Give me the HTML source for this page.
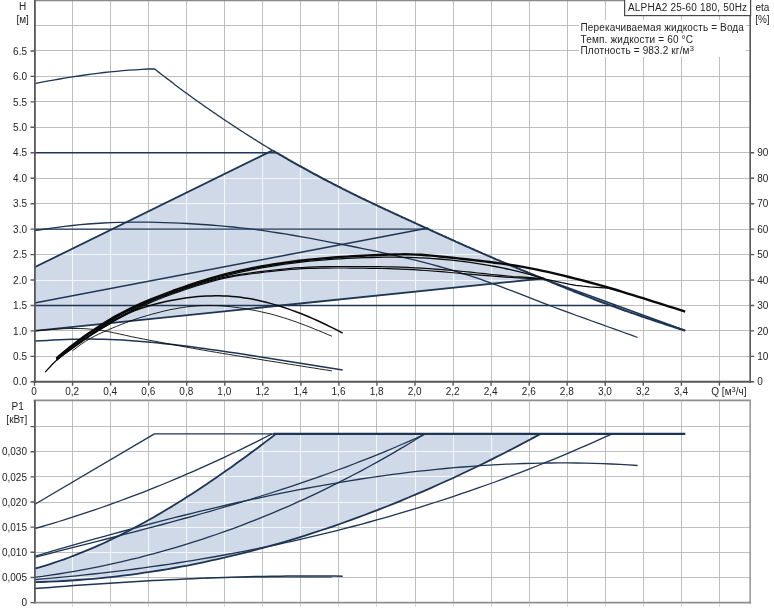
<!DOCTYPE html>
<html><head><meta charset="utf-8"><title>ALPHA2 25-60 180</title>
<style>html,body{margin:0;padding:0;background:#ffffff;}body{width:774px;height:611px;overflow:hidden;position:relative;font-family:"Liberation Sans",sans-serif;}</style></head>
<body>
<svg width="774" height="611" viewBox="0 0 774 611" style="position:absolute;left:0;top:0;display:block;will-change:transform;opacity:0.999">
<defs>
<clipPath id="c1"><path d="M34.5 330.9 L34.5 267.3 L267.7 152.8 L276.9 152.8 L278.1 153.6 L279.4 154.4 L280.7 155.2 L282.1 155.9 L283.4 156.7 L284.7 157.5 L286.1 158.2 L287.4 159 L288.7 159.8 L290.1 160.5 L291.4 161.3 L292.7 162 L294 162.8 L295.4 163.5 L296.7 164.3 L298 165 L299.4 165.8 L300.7 166.5 L302 167.2 L303.4 168 L304.7 168.7 L306 169.4 L307.3 170.2 L308.7 170.9 L310 171.6 L311.3 172.4 L312.7 173.1 L314 173.8 L315.3 174.5 L316.7 175.2 L318 175.9 L319.3 176.6 L320.6 177.4 L322 178.1 L323.3 178.8 L324.6 179.5 L326 180.2 L327.3 180.9 L328.6 181.6 L330 182.2 L331.3 182.9 L332.6 183.6 L334 184.3 L335.3 185 L336.6 185.7 L337.9 186.4 L339.3 187 L340.6 187.7 L341.9 188.4 L343.3 189.1 L344.6 189.7 L345.9 190.4 L347.3 191.1 L348.6 191.7 L349.9 192.4 L351.2 193.1 L352.6 193.7 L353.9 194.4 L355.2 195 L356.6 195.7 L357.9 196.3 L359.2 197 L360.6 197.6 L361.9 198.3 L363.2 198.9 L364.5 199.5 L365.9 200.2 L367.2 200.8 L368.5 201.4 L369.9 202.1 L371.2 202.7 L372.5 203.3 L373.9 204 L375.2 204.6 L376.5 205.2 L377.9 205.9 L379.2 206.5 L380.5 207.1 L381.8 207.7 L383.2 208.4 L384.5 209 L385.8 209.6 L387.2 210.2 L388.5 210.8 L389.8 211.4 L391.2 212.1 L392.5 212.7 L393.8 213.3 L395.1 213.9 L396.5 214.5 L397.8 215.1 L399.1 215.7 L400.5 216.4 L401.8 217 L403.1 217.6 L404.5 218.2 L405.8 218.8 L407.1 219.4 L408.4 220 L409.8 220.6 L411.1 221.2 L412.4 221.8 L413.8 222.4 L415.1 223.1 L416.4 223.7 L417.8 224.3 L419.1 224.9 L420.4 225.5 L421.8 226.1 L423.1 226.7 L424.4 227.3 L425.7 227.9 L427.1 228.5 L428.4 229.1 L429.7 229.7 L431.1 230.4 L432.4 231 L433.7 231.6 L435.1 232.2 L436.4 232.8 L437.7 233.4 L439 234 L440.4 234.6 L441.7 235.2 L443 235.8 L444.4 236.4 L445.7 237 L447 237.6 L448.4 238.2 L449.7 238.8 L451 239.4 L452.3 240 L453.7 240.6 L455 241.2 L456.3 241.8 L457.7 242.4 L459 243 L460.3 243.6 L461.7 244.2 L463 244.8 L464.3 245.4 L465.7 246 L467 246.6 L468.3 247.1 L469.6 247.7 L471 248.3 L472.3 248.9 L473.6 249.5 L475 250.1 L476.3 250.7 L477.6 251.2 L479 251.8 L480.3 252.4 L481.6 253 L482.9 253.6 L484.3 254.1 L485.6 254.7 L486.9 255.3 L488.3 255.9 L489.6 256.4 L490.9 257 L492.3 257.6 L493.6 258.2 L494.9 258.7 L496.2 259.3 L497.6 259.9 L498.9 260.4 L500.2 261 L501.6 261.6 L502.9 262.1 L504.2 262.7 L505.6 263.2 L506.9 263.8 L508.2 264.3 L509.6 264.9 L510.9 265.5 L512.2 266 L513.5 266.6 L514.9 267.1 L516.2 267.7 L517.5 268.2 L518.9 268.8 L520.2 269.3 L521.5 269.9 L522.9 270.4 L524.2 271 L525.5 271.5 L526.8 272 L528.2 272.6 L529.5 273.1 L530.8 273.7 L532.2 274.2 L533.5 274.8 L534.8 275.3 L536.2 275.9 L537.5 276.4 L538.8 277 L540.2 277.5 L541.5 278.1 L542.5 278.5 Z"/></clipPath>
<clipPath id="c2"><path d="M34.5 568.7 L39.4 567.3 L44.4 565.8 L49.3 564.3 L54.2 562.7 L59.1 561 L64.1 559.3 L69 557.5 L73.9 555.6 L78.8 553.7 L83.8 551.7 L88.7 549.7 L93.6 547.6 L98.6 545.4 L103.5 543.2 L108.4 540.9 L113.3 538.5 L118.3 536.1 L123.2 533.6 L128.1 531.1 L133 528.5 L138 525.9 L142.9 523.2 L147.8 520.5 L152.8 517.7 L157.7 514.9 L162.6 512 L167.5 509 L172.5 506.1 L177.4 503 L182.3 500 L187.2 496.8 L192.2 493.7 L197.1 490.5 L202 487.2 L206.9 483.9 L211.9 480.6 L216.8 477.2 L221.7 473.8 L226.7 470.3 L231.6 466.9 L236.5 463.3 L241.4 459.8 L246.4 456.2 L251.3 452.5 L256.2 448.9 L261.1 445.2 L266.1 441.4 L271 437.7 L275.9 433.9 L540.6 433.9 L540.6 433.9 L533.2 437.9 L525.9 441.8 L518.6 445.6 L511.2 449.5 L503.9 453.2 L496.6 456.9 L489.2 460.6 L481.9 464.2 L474.6 467.8 L467.2 471.3 L459.9 474.7 L452.6 478.2 L445.2 481.5 L437.9 484.8 L430.6 488.1 L423.2 491.3 L415.9 494.4 L408.5 497.5 L401.2 500.6 L393.9 503.6 L386.5 506.5 L379.2 509.4 L371.9 512.2 L364.5 515 L357.2 517.7 L349.9 520.4 L342.5 523 L335.2 525.6 L327.9 528.1 L320.5 530.5 L313.2 532.9 L305.9 535.3 L298.5 537.6 L291.2 539.8 L283.9 542 L276.5 544.1 L269.2 546.2 L261.9 548.2 L254.5 550.2 L247.2 552.1 L239.9 553.9 L232.5 555.7 L225.2 557.4 L217.9 559.1 L210.5 560.7 L203.2 562.3 L195.9 563.8 L188.5 565.3 L181.2 566.6 L173.9 568 L166.5 569.3 L159.2 570.5 L151.8 571.6 L144.5 572.7 L137.2 573.8 L129.8 574.8 L122.5 575.7 L115.2 576.6 L107.8 577.4 L100.5 578.1 L93.2 578.8 L85.8 579.4 L78.5 580 L71.2 580.5 L63.8 581 L56.5 581.4 L49.2 581.7 L41.8 582 L34.5 582.2 Z"/></clipPath>
</defs>
<rect x="0" y="0" width="774" height="611" fill="#ffffff"/>
<path d="M72.5 0 V381.8 M110.5 0 V381.8 M148.5 0 V381.8 M186.5 0 V381.8 M224.5 0 V381.8 M262.5 0 V381.8 M300.5 0 V381.8 M338.5 0 V381.8 M376.5 0 V381.8 M415.5 0 V381.8 M453.5 0 V381.8 M491.5 0 V381.8 M529.5 0 V381.8 M567.5 0 V381.8 M605.5 0 V381.8 M643.5 0 V381.8 M681.5 0 V381.8 M719.5 0 V381.8 M34.5 356.5 H750.2 M34.5 330.5 H750.2 M34.5 305.5 H750.2 M34.5 280.5 H750.2 M34.5 254.5 H750.2 M34.5 229.5 H750.2 M34.5 203.5 H750.2 M34.5 178.5 H750.2 M34.5 152.5 H750.2 M34.5 127.5 H750.2 M34.5 101.5 H750.2 M34.5 76.5 H750.2 M34.5 50.5 H750.2 M34.5 25.5 H750.2" stroke="#b4b4b4" stroke-width="0.85" fill="none"/>
<path d="M34.5 330.9 L34.5 267.3 L267.7 152.8 L276.9 152.8 L278.1 153.6 L279.4 154.4 L280.7 155.2 L282.1 155.9 L283.4 156.7 L284.7 157.5 L286.1 158.2 L287.4 159 L288.7 159.8 L290.1 160.5 L291.4 161.3 L292.7 162 L294 162.8 L295.4 163.5 L296.7 164.3 L298 165 L299.4 165.8 L300.7 166.5 L302 167.2 L303.4 168 L304.7 168.7 L306 169.4 L307.3 170.2 L308.7 170.9 L310 171.6 L311.3 172.4 L312.7 173.1 L314 173.8 L315.3 174.5 L316.7 175.2 L318 175.9 L319.3 176.6 L320.6 177.4 L322 178.1 L323.3 178.8 L324.6 179.5 L326 180.2 L327.3 180.9 L328.6 181.6 L330 182.2 L331.3 182.9 L332.6 183.6 L334 184.3 L335.3 185 L336.6 185.7 L337.9 186.4 L339.3 187 L340.6 187.7 L341.9 188.4 L343.3 189.1 L344.6 189.7 L345.9 190.4 L347.3 191.1 L348.6 191.7 L349.9 192.4 L351.2 193.1 L352.6 193.7 L353.9 194.4 L355.2 195 L356.6 195.7 L357.9 196.3 L359.2 197 L360.6 197.6 L361.9 198.3 L363.2 198.9 L364.5 199.5 L365.9 200.2 L367.2 200.8 L368.5 201.4 L369.9 202.1 L371.2 202.7 L372.5 203.3 L373.9 204 L375.2 204.6 L376.5 205.2 L377.9 205.9 L379.2 206.5 L380.5 207.1 L381.8 207.7 L383.2 208.4 L384.5 209 L385.8 209.6 L387.2 210.2 L388.5 210.8 L389.8 211.4 L391.2 212.1 L392.5 212.7 L393.8 213.3 L395.1 213.9 L396.5 214.5 L397.8 215.1 L399.1 215.7 L400.5 216.4 L401.8 217 L403.1 217.6 L404.5 218.2 L405.8 218.8 L407.1 219.4 L408.4 220 L409.8 220.6 L411.1 221.2 L412.4 221.8 L413.8 222.4 L415.1 223.1 L416.4 223.7 L417.8 224.3 L419.1 224.9 L420.4 225.5 L421.8 226.1 L423.1 226.7 L424.4 227.3 L425.7 227.9 L427.1 228.5 L428.4 229.1 L429.7 229.7 L431.1 230.4 L432.4 231 L433.7 231.6 L435.1 232.2 L436.4 232.8 L437.7 233.4 L439 234 L440.4 234.6 L441.7 235.2 L443 235.8 L444.4 236.4 L445.7 237 L447 237.6 L448.4 238.2 L449.7 238.8 L451 239.4 L452.3 240 L453.7 240.6 L455 241.2 L456.3 241.8 L457.7 242.4 L459 243 L460.3 243.6 L461.7 244.2 L463 244.8 L464.3 245.4 L465.7 246 L467 246.6 L468.3 247.1 L469.6 247.7 L471 248.3 L472.3 248.9 L473.6 249.5 L475 250.1 L476.3 250.7 L477.6 251.2 L479 251.8 L480.3 252.4 L481.6 253 L482.9 253.6 L484.3 254.1 L485.6 254.7 L486.9 255.3 L488.3 255.9 L489.6 256.4 L490.9 257 L492.3 257.6 L493.6 258.2 L494.9 258.7 L496.2 259.3 L497.6 259.9 L498.9 260.4 L500.2 261 L501.6 261.6 L502.9 262.1 L504.2 262.7 L505.6 263.2 L506.9 263.8 L508.2 264.3 L509.6 264.9 L510.9 265.5 L512.2 266 L513.5 266.6 L514.9 267.1 L516.2 267.7 L517.5 268.2 L518.9 268.8 L520.2 269.3 L521.5 269.9 L522.9 270.4 L524.2 271 L525.5 271.5 L526.8 272 L528.2 272.6 L529.5 273.1 L530.8 273.7 L532.2 274.2 L533.5 274.8 L534.8 275.3 L536.2 275.9 L537.5 276.4 L538.8 277 L540.2 277.5 L541.5 278.1 L542.5 278.5 Z" fill="#cfd9e7"/>
<g clip-path="url(#c1)"><path d="M72.5 0 V381.8 M110.5 0 V381.8 M148.5 0 V381.8 M186.5 0 V381.8 M224.5 0 V381.8 M262.5 0 V381.8 M300.5 0 V381.8 M338.5 0 V381.8 M376.5 0 V381.8 M415.5 0 V381.8 M453.5 0 V381.8 M491.5 0 V381.8 M529.5 0 V381.8 M567.5 0 V381.8 M605.5 0 V381.8 M643.5 0 V381.8 M681.5 0 V381.8 M719.5 0 V381.8 M34.5 356.5 H750.2 M34.5 330.5 H750.2 M34.5 305.5 H750.2 M34.5 280.5 H750.2 M34.5 254.5 H750.2 M34.5 229.5 H750.2 M34.5 203.5 H750.2 M34.5 178.5 H750.2 M34.5 152.5 H750.2 M34.5 127.5 H750.2 M34.5 101.5 H750.2 M34.5 76.5 H750.2 M34.5 50.5 H750.2 M34.5 25.5 H750.2" stroke="#f3f6fa" stroke-width="1.15" fill="none"/></g>
<path d="M72.5 400.3 V602.6 M110.5 400.3 V602.6 M148.5 400.3 V602.6 M186.5 400.3 V602.6 M224.5 400.3 V602.6 M262.5 400.3 V602.6 M300.5 400.3 V602.6 M338.5 400.3 V602.6 M376.5 400.3 V602.6 M415.5 400.3 V602.6 M453.5 400.3 V602.6 M491.5 400.3 V602.6 M529.5 400.3 V602.6 M567.5 400.3 V602.6 M605.5 400.3 V602.6 M643.5 400.3 V602.6 M681.5 400.3 V602.6 M719.5 400.3 V602.6 M34.5 577.5 H750.2 M34.5 552.5 H750.2 M34.5 527.5 H750.2 M34.5 502.5 H750.2 M34.5 476.5 H750.2 M34.5 451.5 H750.2 M34.5 426.5 H750.2" stroke="#b4b4b4" stroke-width="0.85" fill="none"/>
<path d="M34.5 568.7 L39.4 567.3 L44.4 565.8 L49.3 564.3 L54.2 562.7 L59.1 561 L64.1 559.3 L69 557.5 L73.9 555.6 L78.8 553.7 L83.8 551.7 L88.7 549.7 L93.6 547.6 L98.6 545.4 L103.5 543.2 L108.4 540.9 L113.3 538.5 L118.3 536.1 L123.2 533.6 L128.1 531.1 L133 528.5 L138 525.9 L142.9 523.2 L147.8 520.5 L152.8 517.7 L157.7 514.9 L162.6 512 L167.5 509 L172.5 506.1 L177.4 503 L182.3 500 L187.2 496.8 L192.2 493.7 L197.1 490.5 L202 487.2 L206.9 483.9 L211.9 480.6 L216.8 477.2 L221.7 473.8 L226.7 470.3 L231.6 466.9 L236.5 463.3 L241.4 459.8 L246.4 456.2 L251.3 452.5 L256.2 448.9 L261.1 445.2 L266.1 441.4 L271 437.7 L275.9 433.9 L540.6 433.9 L540.6 433.9 L533.2 437.9 L525.9 441.8 L518.6 445.6 L511.2 449.5 L503.9 453.2 L496.6 456.9 L489.2 460.6 L481.9 464.2 L474.6 467.8 L467.2 471.3 L459.9 474.7 L452.6 478.2 L445.2 481.5 L437.9 484.8 L430.6 488.1 L423.2 491.3 L415.9 494.4 L408.5 497.5 L401.2 500.6 L393.9 503.6 L386.5 506.5 L379.2 509.4 L371.9 512.2 L364.5 515 L357.2 517.7 L349.9 520.4 L342.5 523 L335.2 525.6 L327.9 528.1 L320.5 530.5 L313.2 532.9 L305.9 535.3 L298.5 537.6 L291.2 539.8 L283.9 542 L276.5 544.1 L269.2 546.2 L261.9 548.2 L254.5 550.2 L247.2 552.1 L239.9 553.9 L232.5 555.7 L225.2 557.4 L217.9 559.1 L210.5 560.7 L203.2 562.3 L195.9 563.8 L188.5 565.3 L181.2 566.6 L173.9 568 L166.5 569.3 L159.2 570.5 L151.8 571.6 L144.5 572.7 L137.2 573.8 L129.8 574.8 L122.5 575.7 L115.2 576.6 L107.8 577.4 L100.5 578.1 L93.2 578.8 L85.8 579.4 L78.5 580 L71.2 580.5 L63.8 581 L56.5 581.4 L49.2 581.7 L41.8 582 L34.5 582.2 Z" fill="#cfd9e7"/>
<g clip-path="url(#c2)"><path d="M72.5 400.3 V602.6 M110.5 400.3 V602.6 M148.5 400.3 V602.6 M186.5 400.3 V602.6 M224.5 400.3 V602.6 M262.5 400.3 V602.6 M300.5 400.3 V602.6 M338.5 400.3 V602.6 M376.5 400.3 V602.6 M415.5 400.3 V602.6 M453.5 400.3 V602.6 M491.5 400.3 V602.6 M529.5 400.3 V602.6 M567.5 400.3 V602.6 M605.5 400.3 V602.6 M643.5 400.3 V602.6 M681.5 400.3 V602.6 M719.5 400.3 V602.6 M34.5 577.5 H750.2 M34.5 552.5 H750.2 M34.5 527.5 H750.2 M34.5 502.5 H750.2 M34.5 476.5 H750.2 M34.5 451.5 H750.2 M34.5 426.5 H750.2" stroke="#f3f6fa" stroke-width="1.15" fill="none"/></g>
<rect x="579" y="20" width="167" height="37" fill="#ffffff"/>
<g stroke-linejoin="round" stroke-linecap="butt">
<path d="M34.5 83.7 L40.8 82.4 L47.1 81.2 L53.4 80.1 L59.7 79 L66 77.9 L72.3 76.9 L78.7 76 L85 75 L91.3 74.1 L97.6 73.3 L103.9 72.5 L110.2 71.9 L116.5 71.3 L122.8 70.7 L129.1 70.2 L135.4 69.8 L141.7 69.4 L148 69 L154.4 68.8 L154.4 68.8 L155.7 69.8 L157 70.8 L158.3 71.9 L159.7 72.9 L161 73.9 L162.3 75 L163.7 76 L165 77 L166.3 78.1 L167.7 79.1 L169 80.1 L170.3 81.1 L171.7 82.1 L173 83.1 L174.3 84.2 L175.6 85.2 L177 86.2 L178.3 87.2 L179.6 88.2 L181 89.2 L182.3 90.2 L183.6 91.2 L185 92.2 L186.3 93.1 L187.6 94.1 L188.9 95.1 L190.3 96 L191.6 97 L192.9 98 L194.3 98.9 L195.6 99.9 L196.9 100.8 L198.3 101.7 L199.6 102.7 L200.9 103.6 L202.2 104.6 L203.6 105.5 L204.9 106.4 L206.2 107.4 L207.6 108.3 L208.9 109.2 L210.2 110.1 L211.6 111 L212.9 112 L214.2 112.9 L215.6 113.8 L216.9 114.7 L218.2 115.6 L219.5 116.5 L220.9 117.4 L222.2 118.3 L223.5 119.2 L224.9 120.1 L226.2 121 L227.5 121.8 L228.9 122.7 L230.2 123.6 L231.5 124.5 L232.8 125.4 L234.2 126.2 L235.5 127.1 L236.8 128 L238.2 128.9 L239.5 129.7 L240.8 130.6 L242.2 131.5 L243.5 132.3 L244.8 133.2 L246.1 134 L247.5 134.9 L248.8 135.7 L250.1 136.6 L251.5 137.4 L252.8 138.3 L254.1 139.1 L255.5 139.9 L256.8 140.8 L258.1 141.6 L259.5 142.4 L260.8 143.3 L262.1 144.1 L263.4 144.9 L264.8 145.7 L266.1 146.5 L267.4 147.3 L268.8 148.1 L270.1 148.9 L271.4 149.7 L272.8 150.5" fill="none" stroke="#1e3554" stroke-width="1.3" />
<path d="M272.8 150.5 L274.1 151.3 L275.4 152.1 L276.7 152.8 L278.1 153.6 L279.4 154.4 L280.7 155.2 L282.1 155.9 L283.4 156.7 L284.7 157.5 L286.1 158.2 L287.4 159 L288.7 159.8 L290.1 160.5 L291.4 161.3 L292.7 162 L294 162.8 L295.4 163.5 L296.7 164.3 L298 165 L299.4 165.8 L300.7 166.5 L302 167.2 L303.4 168 L304.7 168.7 L306 169.4 L307.3 170.2 L308.7 170.9 L310 171.6 L311.3 172.4 L312.7 173.1 L314 173.8 L315.3 174.5 L316.7 175.2 L318 175.9 L319.3 176.6 L320.6 177.4 L322 178.1 L323.3 178.8 L324.6 179.5 L326 180.2 L327.3 180.9 L328.6 181.6 L330 182.2 L331.3 182.9 L332.6 183.6 L334 184.3 L335.3 185 L336.6 185.7 L337.9 186.4 L339.3 187 L340.6 187.7 L341.9 188.4 L343.3 189.1 L344.6 189.7 L345.9 190.4 L347.3 191.1 L348.6 191.7 L349.9 192.4 L351.2 193.1 L352.6 193.7 L353.9 194.4 L355.2 195 L356.6 195.7 L357.9 196.3 L359.2 197 L360.6 197.6 L361.9 198.3 L363.2 198.9 L364.5 199.5 L365.9 200.2 L367.2 200.8 L368.5 201.4 L369.9 202.1 L371.2 202.7 L372.5 203.3 L373.9 204 L375.2 204.6 L376.5 205.2 L377.9 205.9 L379.2 206.5 L380.5 207.1 L381.8 207.7 L383.2 208.4 L384.5 209 L385.8 209.6 L387.2 210.2 L388.5 210.8 L389.8 211.4 L391.2 212.1 L392.5 212.7 L393.8 213.3 L395.1 213.9 L396.5 214.5 L397.8 215.1 L399.1 215.7 L400.5 216.4 L401.8 217 L403.1 217.6 L404.5 218.2 L405.8 218.8 L407.1 219.4 L408.4 220 L409.8 220.6 L411.1 221.2 L412.4 221.8 L413.8 222.4 L415.1 223.1 L416.4 223.7 L417.8 224.3 L419.1 224.9 L420.4 225.5 L421.8 226.1 L423.1 226.7 L424.4 227.3 L425.7 227.9 L427.1 228.5 L428.4 229.1 L429.7 229.7 L431.1 230.4 L432.4 231 L433.7 231.6 L435.1 232.2 L436.4 232.8 L437.7 233.4 L439 234 L440.4 234.6 L441.7 235.2 L443 235.8 L444.4 236.4 L445.7 237 L447 237.6 L448.4 238.2 L449.7 238.8 L451 239.4 L452.3 240 L453.7 240.6 L455 241.2 L456.3 241.8 L457.7 242.4 L459 243 L460.3 243.6 L461.7 244.2 L463 244.8 L464.3 245.4 L465.7 246 L467 246.6 L468.3 247.1 L469.6 247.7 L471 248.3 L472.3 248.9 L473.6 249.5 L475 250.1 L476.3 250.7 L477.6 251.2 L479 251.8 L480.3 252.4 L481.6 253 L482.9 253.6 L484.3 254.1 L485.6 254.7 L486.9 255.3 L488.3 255.9 L489.6 256.4 L490.9 257 L492.3 257.6 L493.6 258.2 L494.9 258.7 L496.2 259.3 L497.6 259.9 L498.9 260.4 L500.2 261 L501.6 261.6 L502.9 262.1 L504.2 262.7 L505.6 263.2 L506.9 263.8 L508.2 264.3 L509.6 264.9 L510.9 265.5 L512.2 266 L513.5 266.6 L514.9 267.1 L516.2 267.7 L517.5 268.2 L518.9 268.8 L520.2 269.3 L521.5 269.9 L522.9 270.4 L524.2 271 L525.5 271.5 L526.8 272 L528.2 272.6 L529.5 273.1 L530.8 273.7 L532.2 274.2 L533.5 274.8 L534.8 275.3 L536.2 275.9 L537.5 276.4 L538.8 277 L540.2 277.5 L541.5 278.1 L542.8 278.6 L544.1 279.2 L545.5 279.7 L546.8 280.3 L548.1 280.8 L549.5 281.4 L550.8 281.9 L552.1 282.5 L553.5 283 L554.8 283.6 L556.1 284.1 L557.4 284.7 L558.8 285.2 L560.1 285.8 L561.4 286.3 L562.8 286.8 L564.1 287.4 L565.4 287.9 L566.8 288.5 L568.1 289 L569.4 289.6 L570.7 290.1 L572.1 290.6 L573.4 291.2 L574.7 291.7 L576.1 292.2 L577.4 292.7 L578.7 293.3 L580.1 293.8 L581.4 294.3 L582.7 294.8 L584.1 295.4 L585.4 295.9 L586.7 296.4 L588 296.9 L589.4 297.4 L590.7 297.9 L592 298.4 L593.4 298.9 L594.7 299.5 L596 300 L597.4 300.5 L598.7 301 L600 301.5 L601.3 302 L602.7 302.5 L604 303 L605.3 303.4 L606.7 303.9 L608 304.4 L609.3 304.9 L610.7 305.4 L612 305.9 L613.3 306.4 L614.6 306.8 L616 307.3 L617.3 307.8 L618.6 308.3 L620 308.8 L621.3 309.2 L622.6 309.7 L624 310.2 L625.3 310.7 L626.6 311.1 L628 311.6 L629.3 312.1 L630.6 312.5 L631.9 313 L633.3 313.4 L634.6 313.9 L635.9 314.4 L637.3 314.8 L638.6 315.3 L639.9 315.7 L641.3 316.2 L642.6 316.7 L643.9 317.1 L645.2 317.6 L646.6 318 L647.9 318.5 L649.2 318.9 L650.6 319.4 L651.9 319.8 L653.2 320.3 L654.6 320.7 L655.9 321.2 L657.2 321.6 L658.5 322 L659.9 322.5 L661.2 322.9 L662.5 323.4 L663.9 323.8 L665.2 324.2 L666.5 324.7 L667.9 325.1 L669.2 325.5 L670.5 326 L671.9 326.4 L673.2 326.8 L674.5 327.3 L675.8 327.7 L677.2 328.1 L678.5 328.5 L679.8 329 L681.2 329.4 L682.5 329.8 L683.8 330.2 L685.2 330.6" fill="none" stroke="#1e3554" stroke-width="2.0" />
<path d="M34.5 152.8 L276.9 152.8" fill="none" stroke="#1e3554" stroke-width="1.5" />
<path d="M34.5 267.3 L272.6 150.4" fill="none" stroke="#1e3554" stroke-width="1.8" />
<path d="M34.5 229.1 L428.3 229.1" fill="none" stroke="#1e3554" stroke-width="1.45" />
<path d="M34.5 230.6 L42.1 229.5 L49.8 228.4 L57.4 227.4 L65 226.4 L72.7 225.5 L80.3 224.7 L87.9 224 L95.6 223.5 L103.2 223 L110.8 222.7 L118.5 222.4 L126.1 222.3 L133.7 222.2 L141.4 222.2 L149 222.2 L156.6 222.4 L164.3 222.6 L171.9 222.8 L179.5 223.1 L187.2 223.5 L194.8 224 L202.4 224.5 L210.1 225 L217.7 225.6 L225.4 226.3 L233 227 L240.6 227.9 L248.3 228.7 L255.9 229.7 L263.5 230.7 L271.2 231.8 L278.8 233 L286.4 234.2 L294.1 235.5 L301.7 236.9 L309.3 238.2 L317 239.7 L324.6 241.1 L332.2 242.6 L339.9 244 L347.5 245.5 L355.1 247 L362.8 248.6 L370.4 250.1 L378 251.7 L385.7 253.4 L393.3 255 L400.9 256.8 L408.6 258.6 L416.2 260.4 L423.8 262.4 L431.5 264.4 L439.1 266.5 L446.7 268.7 L454.4 270.9 L462 273.3 L469.6 275.7 L477.3 278.2 L484.9 280.9 L492.5 283.6 L500.2 286.4 L507.8 289.3 L515.4 292.2 L523.1 295.2 L530.7 298.2 L538.3 301.2 L546 304.1 L553.6 307 L561.3 309.9 L568.9 312.7 L576.5 315.5 L584.2 318.2 L591.8 321 L599.4 323.7 L607.1 326.5 L614.7 329.2 L622.3 332 L630 334.7 L637.6 337.5" fill="none" stroke="#1e3554" stroke-width="1.3" />
<path d="M34.5 302.9 L428.3 228.1" fill="none" stroke="#1e3554" stroke-width="1.5" />
<path d="M34.5 305.5 L615.7 305.5" fill="none" stroke="#1e3554" stroke-width="1.5" />
<path d="M34.5 330.9 L542.5 278.5" fill="none" stroke="#1e3554" stroke-width="1.8" />
<path d="M542.5 278.5 L685.2 330.6" fill="none" stroke="#1e3554" stroke-width="1.6" />
<path d="M34.5 341.1 L40.8 340.7 L47.1 340.4 L53.4 340 L59.7 339.8 L65.9 339.5 L72.2 339.3 L78.5 339.2 L84.8 339.1 L91.1 339.1 L97.4 339.2 L103.7 339.3 L110 339.5 L116.3 339.8 L122.6 340.1 L128.8 340.5 L135.1 341 L141.4 341.5 L147.7 342 L154 342.6 L160.3 343.2 L166.6 343.9 L172.9 344.6 L179.2 345.3 L185.5 346.1 L191.7 346.8 L198 347.7 L204.3 348.5 L210.6 349.4 L216.9 350.3 L223.2 351.2 L229.5 352.2 L235.8 353.1 L242.1 354.1 L248.4 355.1 L254.6 356.1 L260.9 357.1 L267.2 358.1 L273.5 359.1 L279.8 360.1 L286.1 361.1 L292.4 362.1 L298.7 363.1 L305 364.1 L311.3 365.1 L317.5 366.1 L323.8 367.1 L330.1 368.1 L336.4 369.1 L342.7 370.1" fill="none" stroke="#1e3554" stroke-width="1.5" />
<path d="M34.5 330.9 L40.6 330.4 L46.6 329.9 L52.7 329.4 L58.8 329 L64.8 328.7 L70.9 328.5 L77 328.5 L83 328.6 L89.1 329 L95.2 329.6 L101.3 330.4 L107.3 331.4 L113.4 332.7 L119.5 334 L125.5 335.3 L131.6 336.7 L137.7 337.9 L143.7 339.1 L149.8 340.3 L155.9 341.4 L161.9 342.6 L168 343.7 L174.1 344.9 L180.1 346 L186.2 347.1 L192.3 348.2 L198.4 349.3 L204.4 350.3 L210.5 351.4 L216.6 352.4 L222.6 353.4 L228.7 354.4 L234.8 355.4 L240.8 356.4 L246.9 357.4 L253 358.3 L259 359.3 L265.1 360.3 L271.2 361.3 L277.2 362.2 L283.3 363.2 L289.4 364.2 L295.4 365.1 L301.5 366.1 L307.6 367.1 L313.7 368 L319.7 369 L325.8 369.9 L331.9 370.9" fill="none" stroke="#0a0a0a" stroke-width="0.9" />
<path d="M56.4 358.9 L62.6 353.8 L68.7 348.9 L74.9 344.1 L81.1 339.6 L87.3 335.3 L93.4 331.2 L99.6 327.2 L105.8 323.3 L112 319.7 L118.1 316.2 L124.3 312.9 L130.5 309.8 L136.7 306.9 L142.9 304.1 L149 301.5 L155.2 298.9 L161.4 296.5 L167.6 294.1 L173.7 291.9 L179.9 289.7 L186.1 287.6 L192.3 285.5 L198.5 283.5 L204.6 281.6 L210.8 279.8 L217 278 L223.2 276.3 L229.3 274.8 L235.5 273.3 L241.7 271.9 L247.9 270.6 L254 269.4 L260.2 268.2 L266.4 267.2 L272.6 266.1 L278.8 265.2 L284.9 264.2 L291.1 263.4 L297.3 262.6 L303.5 261.9 L309.6 261.2 L315.8 260.6 L322 260.1 L328.2 259.6 L334.3 259.2 L340.5 258.8 L346.7 258.4 L352.9 258.1 L359.1 257.9 L365.2 257.6 L371.4 257.5 L377.6 257.3 L383.8 257.2 L389.9 257.2 L396.1 257.2 L402.3 257.3 L408.5 257.4 L414.7 257.6 L420.8 257.8 L427 258.2 L433.2 258.6 L439.4 259 L445.5 259.6 L451.7 260.2 L457.9 260.9 L464.1 261.6 L470.2 262.4 L476.4 263.3 L482.6 264.3 L488.8 265.4 L495 266.5 L501.1 267.7 L507.3 269 L513.5 270.4 L519.7 271.9 L525.8 273.4 L532 275.1 L538.2 276.8 L544.4 278.5" fill="none" stroke="#0a0a0a" stroke-width="1.3" />
<path d="M56.4 359.9 L63.4 354.3 L70.4 348.8 L77.4 343.6 L84.5 338.7 L91.5 334 L98.5 329.6 L105.5 325.3 L112.5 321.1 L119.6 317.1 L126.6 313.3 L133.6 309.6 L140.6 306.1 L147.6 302.8 L154.7 299.8 L161.7 297 L168.7 294.4 L175.7 291.9 L182.7 289.5 L189.8 287.1 L196.8 284.9 L203.8 282.7 L210.8 280.7 L217.8 278.8 L224.9 277.2 L231.9 275.8 L238.9 274.6 L245.9 273.5 L252.9 272.6 L260 271.7 L267 270.8 L274 270 L281 269.3 L288 268.6 L295.1 267.9 L302.1 267.5 L309.1 267.1 L316.1 266.8 L323.1 266.7 L330.2 266.6 L337.2 266.5 L344.2 266.5 L351.2 266.5 L358.2 266.5 L365.3 266.5 L372.3 266.6 L379.3 266.6 L386.3 266.8 L393.3 266.9 L400.4 267.2 L407.4 267.4 L414.4 267.8 L421.4 268.1 L428.4 268.6 L435.5 269.1 L442.5 269.6 L449.5 270.2 L456.5 270.8 L463.5 271.5 L470.6 272.2 L477.6 273 L484.6 273.7 L491.6 274.5 L498.6 275.2 L505.7 275.9 L512.7 276.5 L519.7 276.9 L526.7 277.3 L533.7 277.8 L540.8 278.5 L547.8 279.6 L554.8 281.1 L561.8 282.7 L568.8 284.1 L575.9 285.3 L582.9 286.2 L589.9 286.9 L596.9 287.4 L603.9 287.8 L611 288.1" fill="none" stroke="#0a0a0a" stroke-width="1.2" />
<path d="M56.4 360.4 L62.5 355.6 L68.7 350.9 L74.8 346.3 L81 341.8 L87.1 337.6 L93.3 333.6 L99.4 329.8 L105.6 326.2 L111.8 322.6 L117.9 319.1 L124.1 315.7 L130.2 312.4 L136.4 309.3 L142.5 306.2 L148.7 303.4 L154.8 300.8 L161 298.3 L167.1 295.9 L173.3 293.7 L179.4 291.6 L185.6 289.5 L191.7 287.5 L197.9 285.5 L204.1 283.7 L210.2 281.9 L216.4 280.2 L222.5 278.7 L228.7 277.4 L234.8 276.2 L241 275.2 L247.1 274.3 L253.3 273.5 L259.4 272.8 L265.6 272 L271.7 271.3 L277.9 270.7 L284 270.1 L290.2 269.5 L296.3 269.1 L302.5 268.7 L308.7 268.4 L314.8 268.3 L321 268.1 L327.1 268.1 L333.3 268 L339.4 268 L345.6 268 L351.7 268.1 L357.9 268.1 L364 268.2 L370.2 268.3 L376.3 268.4 L382.5 268.5 L388.6 268.7 L394.8 268.9 L400.9 269.1 L407.1 269.4 L413.3 269.7 L419.4 270.1 L425.6 270.5 L431.7 271 L437.9 271.4 L444 271.9 L450.2 272.5 L456.3 273 L462.5 273.6 L468.6 274.1 L474.8 274.6 L480.9 275.2 L487.1 275.7 L493.2 276.2 L499.4 276.7 L505.5 277.1 L511.7 277.5 L517.9 277.9 L524 278.2 L530.2 278.5 L536.3 278.7 L542.5 279" fill="none" stroke="#0a0a0a" stroke-width="1.2" />
<path d="M91.6 333.4 L95.8 330.7 L100.1 328 L104.3 325.4 L108.6 322.9 L112.9 320.5 L117.1 318.3 L121.4 316.2 L125.6 314.3 L129.9 312.5 L134.1 310.8 L138.4 309.3 L142.7 307.8 L146.9 306.5 L151.2 305.2 L155.4 304.1 L159.7 303 L163.9 302 L168.2 301.1 L172.4 300.2 L176.7 299.4 L181 298.7 L185.2 298.1 L189.5 297.5 L193.7 297 L198 296.6 L202.2 296.3 L206.5 296 L210.8 295.9 L215 295.8 L219.3 295.8 L223.5 295.9 L227.8 296.1 L232 296.4 L236.3 296.8 L240.6 297.3 L244.8 297.9 L249.1 298.6 L253.3 299.3 L257.6 300.2 L261.8 301.2 L266.1 302.2 L270.3 303.4 L274.6 304.6 L278.9 305.8 L283.1 307.2 L287.4 308.6 L291.6 310.1 L295.9 311.7 L300.1 313.3 L304.4 315 L308.7 316.8 L312.9 318.6 L317.2 320.5 L321.4 322.5 L325.7 324.5 L329.9 326.6 L334.2 328.7 L338.4 330.9 L342.7 333.1" fill="none" stroke="#0a0a0a" stroke-width="1.5" />
<path d="M72.6 350.8 L76.9 347.4 L81.3 344.1 L85.7 341.2 L90.1 338.6 L94.5 336.2 L98.9 334 L103.3 332 L107.7 330.1 L112.1 328.2 L116.5 326.4 L120.9 324.6 L125.3 322.9 L129.7 321.2 L134.1 319.7 L138.5 318.2 L142.9 316.8 L147.3 315.5 L151.7 314.3 L156.1 313.1 L160.5 312 L164.8 310.9 L169.2 309.9 L173.6 309.1 L178 308.2 L182.4 307.5 L186.8 306.9 L191.2 306.4 L195.6 306 L200 305.7 L204.4 305.5 L208.8 305.4 L213.2 305.5 L217.6 305.6 L222 305.9 L226.4 306.3 L230.8 306.7 L235.2 307.3 L239.6 307.9 L244 308.5 L248.4 309.3 L252.7 310.1 L257.1 310.9 L261.5 311.9 L265.9 312.9 L270.3 313.9 L274.7 315.1 L279.1 316.4 L283.5 317.7 L287.9 319.1 L292.3 320.6 L296.7 322.1 L301.1 323.8 L305.5 325.4 L309.9 327.1 L314.3 328.9 L318.7 330.7 L323.1 332.5 L327.5 334.4 L331.9 336.2" fill="none" stroke="#0a0a0a" stroke-width="0.9" />
<path d="M45.2 372.1 L47.4 369.6 L49.7 367.2 L51.9 364.8 L54.2 362.5 L56.4 360.4 L58.7 358.4 L61 356.5 L63.2 354.8 L65.5 353.1 L67.7 351.5 L70 350 L72.2 348.4 L74.5 346.9 L76.7 345.3 L79 343.7 L81.3 342.1 L83.5 340.5 L85.8 338.9 L88 337.4 L90.3 335.8 L92.5 334.3 L94.8 332.9 L97.1 331.4 L99.3 330 L101.6 328.7 L103.8 327.3 L106.1 325.9 L108.3 324.6 L110.6 323.3" fill="none" stroke="#0a0a0a" stroke-width="1.3" />
<path d="M56.4 358.4 L61.7 354 L66.9 349.6 L72.2 345.4 L77.5 341.4 L82.8 337.5 L88.1 333.8 L93.4 330.2 L98.6 326.7 L103.9 323.3 L109.2 320 L114.5 316.9 L119.8 314 L125.1 311.3 L130.4 308.7 L135.6 306.1 L140.9 303.7 L146.2 301.4 L151.5 299.2 L156.8 297 L162.1 295 L167.3 293 L172.6 291 L177.9 289.2 L183.2 287.3 L188.5 285.5 L193.8 283.7 L199 282 L204.3 280.3 L209.6 278.7 L214.9 277.1 L220.2 275.6 L225.5 274.2 L230.7 272.9 L236 271.6 L241.3 270.4 L246.6 269.3 L251.9 268.3 L257.2 267.3 L262.4 266.3 L267.7 265.4 L273 264.5 L278.3 263.7 L283.6 262.9 L288.9 262.2 L294.2 261.5 L299.4 260.8 L304.7 260.2 L310 259.6 L315.3 259.1 L320.6 258.6 L325.9 258.1 L331.1 257.7 L336.4 257.3 L341.7 256.9 L347 256.6 L352.3 256.3 L357.6 256 L362.8 255.7 L368.1 255.4 L373.4 255.2 L378.7 255 L384 254.8 L389.3 254.6 L394.5 254.5 L399.8 254.4 L405.1 254.3 L410.4 254.4 L415.7 254.6 L421 254.8 L426.2 255.2 L431.5 255.6 L436.8 256.1 L442.1 256.7 L447.4 257.2 L452.7 257.8 L458 258.4 L463.2 259 L468.5 259.5 L473.8 260.1 L479.1 260.7 L484.4 261.4 L489.7 262 L494.9 262.7 L500.2 263.4 L505.5 264.1 L510.8 264.9 L516.1 265.7 L521.4 266.6 L526.6 267.6 L531.9 268.6 L537.2 269.6 L542.5 270.8 L547.8 271.9 L553.1 273.1 L558.3 274.4 L563.6 275.7 L568.9 277 L574.2 278.3 L579.5 279.7 L584.8 281 L590 282.5 L595.3 283.9 L600.6 285.4 L605.9 286.9 L611.2 288.5 L616.5 290 L621.7 291.7 L627 293.3 L632.3 294.9 L637.6 296.6 L642.9 298.2 L648.2 299.9 L653.5 301.6 L658.7 303.2 L664 304.9 L669.3 306.6 L674.6 308.2 L679.9 309.9 L685.2 311.6" fill="none" stroke="#0a0a0a" stroke-width="2.4" />
<path d="M34.5 504.5 L154.4 433.9 L685.2 433.9" fill="none" stroke="#1e3554" stroke-width="1.3" />
<path d="M273.3 433.9 L685.2 433.9" fill="none" stroke="#1e3554" stroke-width="2.1" />
<path d="M34.5 528.7 L40.6 527 L46.7 525.2 L52.8 523.4 L58.9 521.5 L64.9 519.6 L71 517.7 L77.1 515.7 L83.2 513.7 L89.3 511.7 L95.4 509.6 L101.5 507.5 L107.6 505.4 L113.6 503.2 L119.7 501 L125.8 498.7 L131.9 496.4 L138 494.1 L144.1 491.8 L150.2 489.4 L156.3 486.9 L162.3 484.5 L168.4 482 L174.5 479.4 L180.6 476.8 L186.7 474.2 L192.8 471.6 L198.9 468.9 L205 466.2 L211.1 463.4 L217.1 460.6 L223.2 457.8 L229.3 454.9 L235.4 452 L241.5 449.1 L247.6 446.1 L253.7 443.1 L259.8 440.1 L265.8 437 L271.9 433.9" fill="none" stroke="#1e3554" stroke-width="1.3" />
<path d="M34.5 557.3 L42.5 555.3 L50.5 553.3 L58.4 551.2 L66.4 549.2 L74.4 547.2 L82.4 545.1 L90.4 543.1 L98.3 541.1 L106.3 539 L114.3 537 L122.3 534.9 L130.2 532.9 L138.2 530.8 L146.2 528.7 L154.2 526.6 L162.2 524.5 L170.1 522.3 L178.1 520.2 L186.1 518 L194.1 515.8 L202.1 513.5 L210 511.3 L218 509 L226 506.7 L234 504.3 L242 501.9 L249.9 499.5 L257.9 497 L265.9 494.5 L273.9 492 L281.8 489.4 L289.8 486.8 L297.8 484.1 L305.8 481.4 L313.8 478.6 L321.7 475.8 L329.7 473 L337.7 470 L345.7 467.1 L353.7 464 L361.6 460.9 L369.6 457.8 L377.6 454.6 L385.6 451.3 L393.5 448 L401.5 444.5 L409.5 441.1 L417.5 437.5 L425.5 433.9" fill="none" stroke="#1e3554" stroke-width="1.3" />
<path d="M34.5 556.3 L43.2 553.8 L52 551.2 L60.7 548.7 L69.5 546.2 L78.2 543.7 L86.9 541.2 L95.7 538.7 L104.4 536.3 L113.2 533.9 L121.9 531.5 L130.6 529.1 L139.4 526.8 L148.1 524.5 L156.9 522.2 L165.6 519.9 L174.3 517.7 L183.1 515.5 L191.8 513.3 L200.6 511.2 L209.3 509.1 L218 507.1 L226.8 505 L235.5 503 L244.3 501.1 L253 499.2 L261.8 497.3 L270.5 495.4 L279.2 493.6 L288 491.9 L296.7 490.2 L305.5 488.5 L314.2 486.9 L322.9 485.3 L331.7 483.8 L340.4 482.3 L349.2 480.9 L357.9 479.5 L366.6 478.1 L375.4 476.9 L384.1 475.6 L392.9 474.4 L401.6 473.3 L410.3 472.2 L419.1 471.2 L427.8 470.3 L436.6 469.4 L445.3 468.5 L454 467.7 L462.8 467 L471.5 466.3 L480.3 465.7 L489 465.1 L497.7 464.6 L506.5 464.2 L515.2 463.8 L524 463.5 L532.7 463.3 L541.4 463.1 L550.2 463 L558.9 462.9 L567.7 462.9 L576.4 463 L585.1 463.2 L593.9 463.4 L602.6 463.7 L611.4 464 L620.1 464.4 L628.9 464.9 L637.6 465.5" fill="none" stroke="#1e3554" stroke-width="1.3" />
<path d="M34.5 568.7 L39.4 567.3 L44.4 565.8 L49.3 564.3 L54.2 562.7 L59.1 561 L64.1 559.3 L69 557.5 L73.9 555.6 L78.8 553.7 L83.8 551.7 L88.7 549.7 L93.6 547.6 L98.6 545.4 L103.5 543.2 L108.4 540.9 L113.3 538.5 L118.3 536.1 L123.2 533.6 L128.1 531.1 L133 528.5 L138 525.9 L142.9 523.2 L147.8 520.5 L152.8 517.7 L157.7 514.9 L162.6 512 L167.5 509 L172.5 506.1 L177.4 503 L182.3 500 L187.2 496.8 L192.2 493.7 L197.1 490.5 L202 487.2 L206.9 483.9 L211.9 480.6 L216.8 477.2 L221.7 473.8 L226.7 470.3 L231.6 466.9 L236.5 463.3 L241.4 459.8 L246.4 456.2 L251.3 452.5 L256.2 448.9 L261.1 445.2 L266.1 441.4 L271 437.7 L275.9 433.9" fill="none" stroke="#1e3554" stroke-width="1.8" />
<path d="M34.5 577.4 L42.5 576.4 L50.4 575.2 L58.4 574 L66.4 572.7 L74.3 571.3 L82.3 569.9 L90.3 568.4 L98.2 566.8 L106.2 565.2 L114.2 563.4 L122.1 561.6 L130.1 559.7 L138.1 557.8 L146 555.7 L154 553.6 L162 551.4 L169.9 549.2 L177.9 546.8 L185.9 544.4 L193.8 541.9 L201.8 539.4 L209.8 536.7 L217.7 534 L225.7 531.2 L233.7 528.3 L241.6 525.3 L249.6 522.2 L257.6 519.1 L265.5 515.9 L273.5 512.6 L281.5 509.2 L289.5 505.8 L297.4 502.2 L305.4 498.6 L313.4 494.9 L321.3 491.1 L329.3 487.2 L337.3 483.2 L345.2 479.2 L353.2 475 L361.2 470.8 L369.1 466.5 L377.1 462.1 L385.1 457.6 L393 453.1 L401 448.4 L409 443.7 L416.9 438.8 L424.9 433.9" fill="none" stroke="#1e3554" stroke-width="1.3" />
<path d="M34.5 579.6 L42.9 578.9 L51.2 578.2 L59.6 577.4 L68 576.6 L76.4 575.8 L84.7 574.9 L93.1 574 L101.5 573.1 L109.8 572.1 L118.2 571.1 L126.6 570.1 L135 569 L143.3 567.9 L151.7 566.7 L160.1 565.5 L168.4 564.3 L176.8 563 L185.2 561.7 L193.5 560.3 L201.9 558.9 L210.3 557.5 L218.7 556 L227 554.5 L235.4 552.9 L243.8 551.3 L252.1 549.7 L260.5 548 L268.9 546.3 L277.3 544.5 L285.6 542.7 L294 540.8 L302.4 538.9 L310.7 536.9 L319.1 534.9 L327.5 532.9 L335.9 530.8 L344.2 528.7 L352.6 526.5 L361 524.3 L369.3 522 L377.7 519.7 L386.1 517.3 L394.5 514.9 L402.8 512.4 L411.2 509.9 L419.6 507.3 L427.9 504.7 L436.3 502 L444.7 499.3 L453 496.6 L461.4 493.7 L469.8 490.9 L478.2 487.9 L486.5 485 L494.9 482 L503.3 478.9 L511.6 475.7 L520 472.6 L528.4 469.3 L536.8 466 L545.1 462.7 L553.5 459.3 L561.9 455.8 L570.2 452.3 L578.6 448.7 L587 445.1 L595.4 441.4 L603.7 437.7 L612.1 433.9" fill="none" stroke="#1e3554" stroke-width="1.3" />
<path d="M34.5 582.2 L41.8 582 L49.2 581.7 L56.5 581.4 L63.8 581 L71.2 580.5 L78.5 580 L85.8 579.4 L93.2 578.8 L100.5 578.1 L107.8 577.4 L115.2 576.6 L122.5 575.7 L129.8 574.8 L137.2 573.8 L144.5 572.7 L151.8 571.6 L159.2 570.5 L166.5 569.3 L173.9 568 L181.2 566.6 L188.5 565.3 L195.9 563.8 L203.2 562.3 L210.5 560.7 L217.9 559.1 L225.2 557.4 L232.5 555.7 L239.9 553.9 L247.2 552.1 L254.5 550.2 L261.9 548.2 L269.2 546.2 L276.5 544.1 L283.9 542 L291.2 539.8 L298.5 537.6 L305.9 535.3 L313.2 532.9 L320.5 530.5 L327.9 528.1 L335.2 525.6 L342.5 523 L349.9 520.4 L357.2 517.7 L364.5 515 L371.9 512.2 L379.2 509.4 L386.5 506.5 L393.9 503.6 L401.2 500.6 L408.5 497.5 L415.9 494.4 L423.2 491.3 L430.6 488.1 L437.9 484.8 L445.2 481.5 L452.6 478.2 L459.9 474.7 L467.2 471.3 L474.6 467.8 L481.9 464.2 L489.2 460.6 L496.6 456.9 L503.9 453.2 L511.2 449.5 L518.6 445.6 L525.9 441.8 L533.2 437.9 L540.6 433.9" fill="none" stroke="#1e3554" stroke-width="1.8" />
<path d="M34.5 588.6 L42.4 588 L50.3 587.4 L58.2 586.8 L66.1 586.2 L74 585.6 L81.9 585.1 L89.8 584.5 L97.7 584 L105.6 583.5 L113.5 583 L121.4 582.5 L129.3 582 L137.2 581.5 L145.1 581 L153 580.6 L160.9 580.2 L168.8 579.8 L176.7 579.4 L184.7 579 L192.6 578.7 L200.5 578.3 L208.4 578 L216.3 577.7 L224.2 577.5 L232.1 577.2 L240 577 L247.9 576.8 L255.8 576.6 L263.7 576.4 L271.6 576.3 L279.5 576.2 L287.4 576.1 L295.3 576 L303.2 576 L311.1 576 L319 576 L326.9 576 L334.8 576.1 L342.7 576.2" fill="none" stroke="#1e3554" stroke-width="1.5" />
<path d="M205.7 577.9 L209 577.8 L212.2 577.7 L215.4 577.7 L218.7 577.6 L221.9 577.6 L225.1 577.5 L228.4 577.5 L231.6 577.4 L234.8 577.4 L238.1 577.4 L241.3 577.3 L244.5 577.3 L247.8 577.3 L251 577.2 L254.2 577.2 L257.5 577.2 L260.7 577.2 L263.9 577.2 L267.2 577.2 L270.4 577.2 L273.6 577.2 L276.9 577.2 L280.1 577.1 L283.3 577.1 L286.6 577.1 L289.8 577.1 L293 577.1 L296.3 577.2 L299.5 577.2 L302.8 577.2 L306 577.2 L309.2 577.2 L312.5 577.2 L315.7 577.2 L318.9 577.2 L322.2 577.2 L325.4 577.2 L328.6 577.2 L331.9 577.2" fill="none" stroke="#1e3554" stroke-width="0.8" />
</g>
<path d="M34.5 0.5 H750.2" stroke="#8a8a8a" stroke-width="1.4" fill="none"/>
<path d="M34.9 0 V382.8" stroke="#585858" stroke-width="1.8" fill="none"/>
<path d="M750.2 0 V382.8" stroke="#585858" stroke-width="1.6" fill="none"/>
<path d="M33.5 381.8 H751.2" stroke="#585858" stroke-width="1.9" fill="none"/>
<path d="M33.5 400.3 H751" stroke="#8f8f8f" stroke-width="1.8" fill="none"/>
<path d="M34.9 400.3 V603.6" stroke="#585858" stroke-width="1.8" fill="none"/>
<path d="M750.2 400.3 V603.6" stroke="#9a9a9a" stroke-width="1.6" fill="none"/>
<path d="M33.5 602.6 H751" stroke="#8f8f8f" stroke-width="1.8" fill="none"/>
<path d="M30.5 381.8 H34.5 M30.5 356.4 H34.5 M30.5 330.9 H34.5 M30.5 305.5 H34.5 M30.5 280 H34.5 M30.5 254.6 H34.5 M30.5 229.1 H34.5 M30.5 203.7 H34.5 M30.5 178.2 H34.5 M30.5 152.8 H34.5 M30.5 127.3 H34.5 M30.5 101.9 H34.5 M30.5 76.4 H34.5 M30.5 51 H34.5 M750.2 381.8 H754.2 M750.2 356.4 H754.2 M750.2 330.9 H754.2 M750.2 305.5 H754.2 M750.2 280 H754.2 M750.2 254.6 H754.2 M750.2 229.1 H754.2 M750.2 203.7 H754.2 M750.2 178.2 H754.2 M750.2 152.8 H754.2 M34.5 381.8 V385.8 M72.6 381.8 V385.8 M110.6 381.8 V385.8 M148.7 381.8 V385.8 M186.7 381.8 V385.8 M224.8 381.8 V385.8 M262.8 381.8 V385.8 M300.9 381.8 V385.8 M338.9 381.8 V385.8 M376.9 381.8 V385.8 M415 381.8 V385.8 M453.1 381.8 V385.8 M491.1 381.8 V385.8 M529.2 381.8 V385.8 M567.2 381.8 V385.8 M605.2 381.8 V385.8 M643.3 381.8 V385.8 M681.4 381.8 V385.8 M719.4 381.8 V385.8 M30.5 602.6 H34.5 M30.5 577.5 H34.5 M30.5 552.3 H34.5 M30.5 527.1 H34.5 M30.5 502 H34.5 M30.5 476.9 H34.5 M30.5 451.7 H34.5 M30.5 426.6 H34.5" stroke="#585858" stroke-width="1.4" fill="none"/>
<path d="M72.5 603.6 V607.1 M110.5 603.6 V607.1 M148.5 603.6 V607.1 M186.5 603.6 V607.1 M224.5 603.6 V607.1 M262.5 603.6 V607.1 M300.5 603.6 V607.1 M338.5 603.6 V607.1 M376.5 603.6 V607.1 M415.5 603.6 V607.1 M453.5 603.6 V607.1 M491.5 603.6 V607.1 M529.5 603.6 V607.1 M567.5 603.6 V607.1 M605.5 603.6 V607.1 M643.5 603.6 V607.1 M681.5 603.6 V607.1 M719.5 603.6 V607.1" stroke="#d6d6d6" stroke-width="1" fill="none"/>
<rect x="624.6" y="-2" width="126" height="17.6" fill="#ffffff" stroke="#484848" stroke-width="1.2"/>
<g font-family="'Liberation Sans', sans-serif" font-size="10px" fill="#242424">
<text x="27" y="385.4" text-anchor="end">0.0</text>
<text x="27" y="360" text-anchor="end">0.5</text>
<text x="27" y="334.5" text-anchor="end">1.0</text>
<text x="27" y="309.1" text-anchor="end">1.5</text>
<text x="27" y="283.6" text-anchor="end">2.0</text>
<text x="27" y="258.2" text-anchor="end">2.5</text>
<text x="27" y="232.7" text-anchor="end">3.0</text>
<text x="27" y="207.2" text-anchor="end">3.5</text>
<text x="27" y="181.8" text-anchor="end">4.0</text>
<text x="27" y="156.4" text-anchor="end">4.5</text>
<text x="27" y="130.9" text-anchor="end">5.0</text>
<text x="27" y="105.5" text-anchor="end">5.5</text>
<text x="27" y="80" text-anchor="end">6.0</text>
<text x="27" y="54.6" text-anchor="end">6.5</text>
<text x="757.2" y="385.4">0</text>
<text x="757.2" y="360">10</text>
<text x="757.2" y="334.5">20</text>
<text x="757.2" y="309.1">30</text>
<text x="757.2" y="283.6">40</text>
<text x="757.2" y="258.2">50</text>
<text x="757.2" y="232.7">60</text>
<text x="757.2" y="207.2">70</text>
<text x="757.2" y="181.8">80</text>
<text x="757.2" y="156.4">90</text>
<text x="34.1" y="395.2" text-anchor="middle">0</text>
<text x="72.2" y="395.2" text-anchor="middle">0,2</text>
<text x="110.2" y="395.2" text-anchor="middle">0,4</text>
<text x="148.3" y="395.2" text-anchor="middle">0,6</text>
<text x="186.3" y="395.2" text-anchor="middle">0,8</text>
<text x="224.3" y="395.2" text-anchor="middle">1,0</text>
<text x="262.4" y="395.2" text-anchor="middle">1,2</text>
<text x="300.5" y="395.2" text-anchor="middle">1,4</text>
<text x="338.5" y="395.2" text-anchor="middle">1,6</text>
<text x="376.6" y="395.2" text-anchor="middle">1,8</text>
<text x="414.6" y="395.2" text-anchor="middle">2,0</text>
<text x="452.7" y="395.2" text-anchor="middle">2,2</text>
<text x="490.7" y="395.2" text-anchor="middle">2,4</text>
<text x="528.8" y="395.2" text-anchor="middle">2,6</text>
<text x="566.8" y="395.2" text-anchor="middle">2,8</text>
<text x="604.9" y="395.2" text-anchor="middle">3,0</text>
<text x="642.9" y="395.2" text-anchor="middle">3,2</text>
<text x="681" y="395.2" text-anchor="middle">3,4</text>
<text x="711.3" y="395.2">Q [м<tspan dy="-3" font-size="7.5px">3</tspan><tspan dy="3">/ч]</tspan></text>
<text x="27" y="606.2" text-anchor="end">0</text>
<text x="27" y="581.1" text-anchor="end">0,005</text>
<text x="27" y="555.9" text-anchor="end">0,010</text>
<text x="27" y="530.8" text-anchor="end">0,015</text>
<text x="27" y="505.6" text-anchor="end">0,020</text>
<text x="27" y="480.5" text-anchor="end">0,025</text>
<text x="27" y="455.3" text-anchor="end">0,030</text>
<text x="22.7" y="10.3" text-anchor="middle">H</text>
<text x="22.7" y="22.5" text-anchor="middle">[м]</text>
<text x="17.6" y="410.3" text-anchor="middle">P1</text>
<text x="16.8" y="422.5" text-anchor="middle">[кВт]</text>
<text x="762.4" y="11" text-anchor="middle">eta</text>
<text x="762.4" y="22.5" text-anchor="middle">[%]</text>
<text x="628" y="11.2" textLength="119.1" lengthAdjust="spacing">ALPHA2 25-60 180, 50Hz</text>
<text x="580.5" y="30.5" textLength="163.4" lengthAdjust="spacing">Перекачиваемая жидкость = Вода</text>
<text x="580.5" y="42.5" textLength="112.5" lengthAdjust="spacing">Темп. жидкости = 60 °C</text>
<text x="580.5" y="54" textLength="113.3" lengthAdjust="spacing">Плотность = 983.2 кг/м<tspan dy="-3" font-size="7.5px">3</tspan></text>
</g>
</svg>
</body></html>
